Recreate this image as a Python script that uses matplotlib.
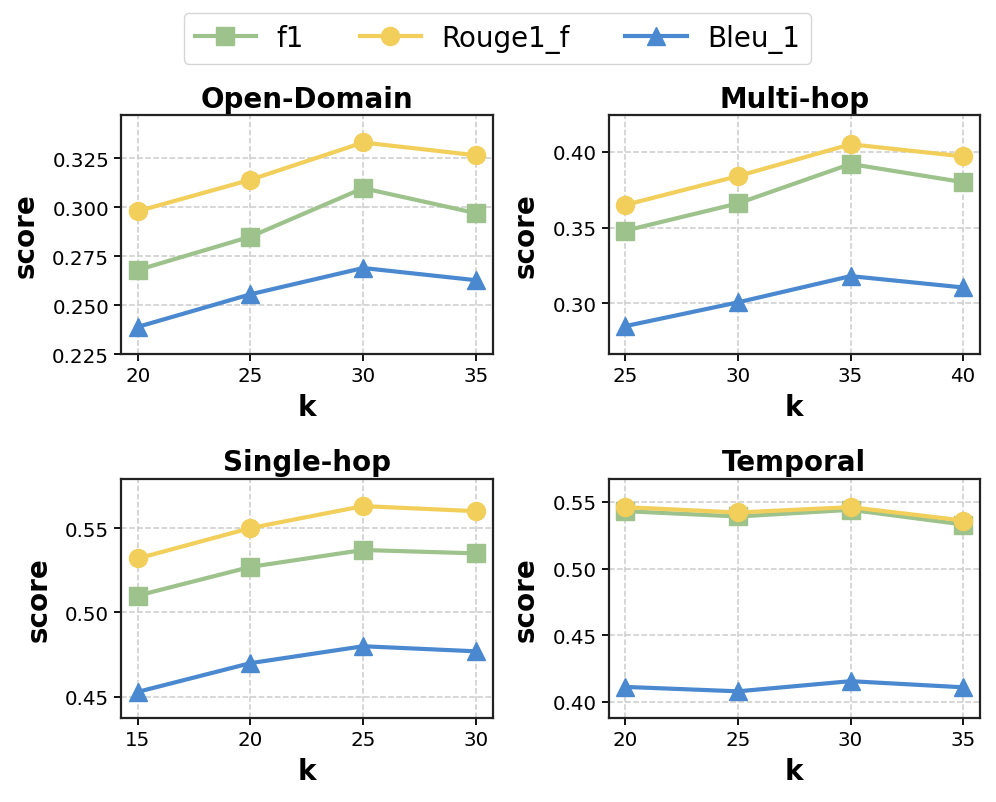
import matplotlib
matplotlib.use("Agg")
import matplotlib.pyplot as plt
from matplotlib.ticker import FormatStrFormatter

titles = ["Open-Domain", "Multi-hop", "Single-hop", "Temporal"]
k_values = [[20, 25, 30, 35], [25, 30, 35, 40], [15, 20, 25, 30], [20, 25, 30, 35]]
f1 = [[0.268, 0.285, 0.3097, 0.297],
      [0.348, 0.366, 0.392, 0.380],
      [0.510, 0.527, 0.537, 0.535],
      [0.543, 0.539, 0.544, 0.533]]
rouge1_f = [[0.298, 0.314, 0.333, 0.3265],
            [0.365, 0.384, 0.405, 0.397],
            [0.532, 0.550, 0.563, 0.560],
            [0.546, 0.542, 0.546, 0.536]]
bleu_1 = [[0.239, 0.2556, 0.269, 0.2628],
          [0.285, 0.3007, 0.318, 0.3105],
          [0.453, 0.470, 0.480, 0.477],
          [0.4113, 0.408, 0.4156, 0.411]]
y_ticks = [[0.225, 0.250, 0.275, 0.300, 0.325],
           [0.30, 0.35, 0.40],
           [0.45, 0.50, 0.55],
           [0.40, 0.45, 0.50, 0.55]]
y_fmt = ["%.3f", "%.2f", "%.2f", "%.2f"]
y_lims = [(0.225, 0.347), (0.2664, 0.4243), (0.4375, 0.5792), (0.388, 0.5673)]

series_names = ["f1", "Rouge1_f", "Bleu_1"]
colors = ["#9dc28b", "#f2cf5b", "#4a89d0"]
markers = ["s", "o", "^"]

fig, axes = plt.subplots(2, 2, figsize=(9.96, 8.03), dpi=100)
fig.subplots_adjust(left=0.1215, right=0.984, top=0.8555, bottom=0.1046,
                    wspace=0.312, hspace=0.52)
axes = axes.flatten()
for i, ax in enumerate(axes):
    data = [f1[i], rouge1_f[i], bleu_1[i]]
    for name, vals, c, m in zip(series_names, data, colors, markers):
        ax.plot(k_values[i], vals, color=c, marker=m, lw=3, markersize=13, label=name)
    ax.set_title(titles[i], fontsize=20, fontweight="bold")
    ax.set_xlabel("k", fontsize=20, fontweight="bold", labelpad=6)
    ax.set_ylabel("score", fontsize=20, fontweight="bold", labelpad=9)
    ax.set_xticks(k_values[i])
    ax.set_yticks(y_ticks[i])
    ax.yaxis.set_major_formatter(FormatStrFormatter(y_fmt[i]))
    ax.set_ylim(*y_lims[i])
    ax.tick_params(labelsize=14.3, width=1.3, length=5)
    ax.grid(True, linestyle="--", color="#cccccc", lw=1.1)
    ax.set_axisbelow(True)
    for s in ax.spines.values():
        s.set_linewidth(1.6)
        s.set_color("#222222")

handles, labels = axes[0].get_legend_handles_labels()
fig.legend(handles, labels, loc="upper center", ncol=3, fontsize=20,
           bbox_to_anchor=(0.4995, 0.983), borderaxespad=0.0,
           columnspacing=2.0, handlelength=2.2, handletextpad=0.75)
fig.savefig("out.png", dpi=100)
